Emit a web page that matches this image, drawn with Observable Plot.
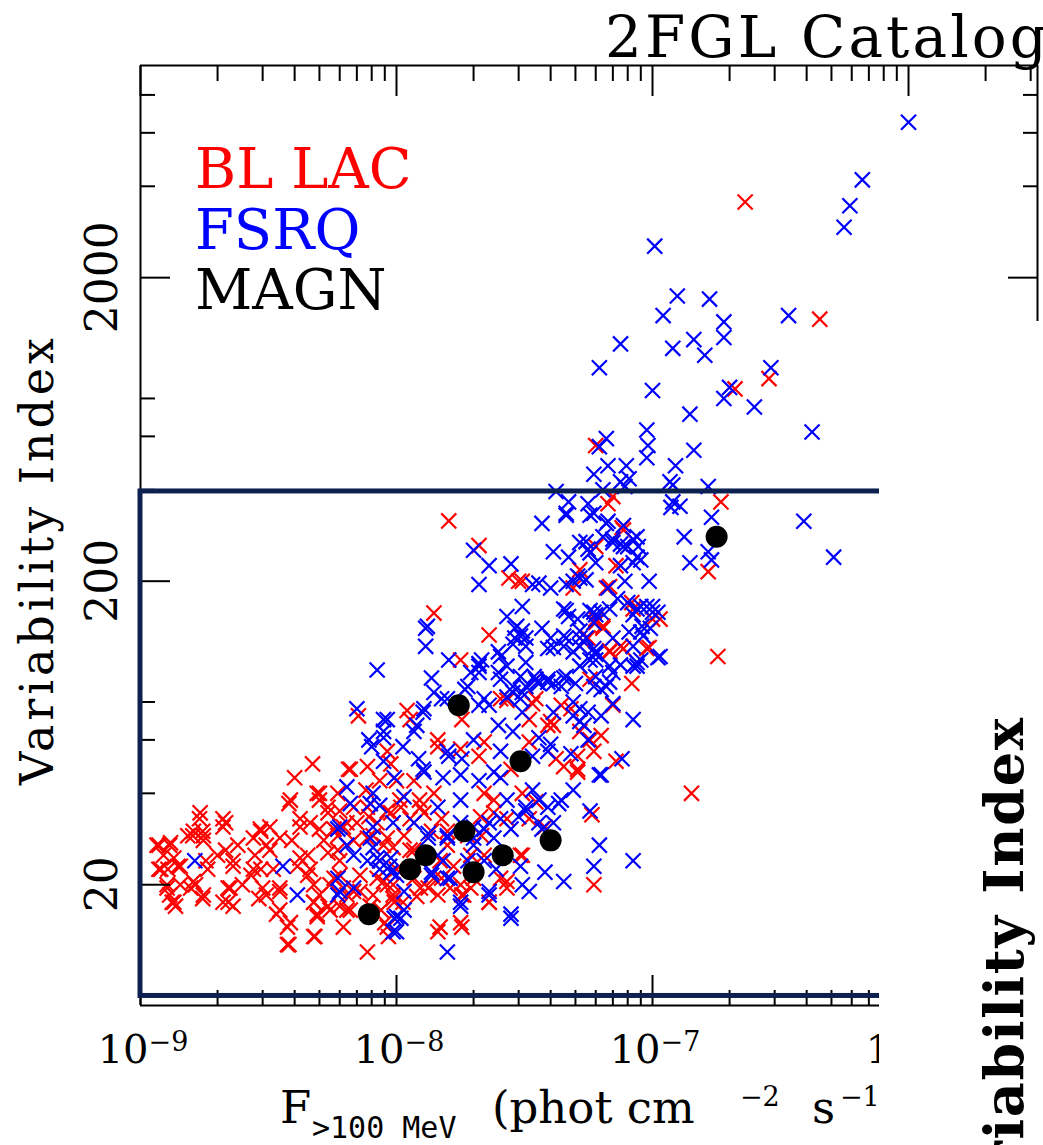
<!DOCTYPE html>
<html>
<head>
<meta charset="utf-8">
<script src="https://cdn.jsdelivr.net/npm/d3@7"></script>
<script src="https://cdn.jsdelivr.net/npm/@observablehq/plot@0.6"></script>
<style>
html, body { margin: 0; padding: 0; background: #fff; }
#chart svg { display: block; }
</style>
</head>
<body>
<div id="chart"></div>
<script>
// ---- data: [flux (>100 MeV, phot cm^-2 s^-1), variability index] ----
const blLac = [
[2.3e-7,3550],[4.5e-7,1460],[2.85e-7,930],[2.1e-7,860],[6.0e-8,560],[7e-8,380],[1.85e-7,365],[6.7e-8,360],[7.6e-8,300],[7.7e-8,295],[6e-8,260],[1.65e-7,215],[7.2e-8,225],[6.6e-8,190],[6.8e-8,192],[5.2e-8,218],[3.1e-8,200],[4.9e-8,190],[8.3e-8,170],[8.4e-8,162],[1e-7,150],[1.07e-7,150],[6e-8,150],[6e-8,146],[6.4e-8,140],[6.4e-8,142],[5.6e-8,130],[5.4e-8,126],[6.8e-8,118],[7.5e-8,122],[7.7e-8,120],[9.5e-8,120],[6.8e-8,117],[9.7e-8,121],[1.8e-7,113],[3.5e-8,95],[8.3e-8,92],[5.7e-8,95],[3.4e-8,79],[4.8e-8,76],[4e-8,69],[5.7e-8,60],[3.3e-8,59],[5.1e-8,53],[7.2e-8,51],[4.5e-8,49],[5.1e-8,48],[1.42e-7,40],[5.9e-8,20],[5.8e-8,34],[3.3e-8,33],[3.8e-8,31],[3.1e-8,25],
[3.5e-8,82],[3.3e-8,70],[3.9e-8,67],[2.55e-8,82],[4.4e-8,78],[5.2e-8,64],[4.1e-8,67],[7e-8,78],[6.3e-8,62],
[1.6e-8,316],[2.1e-8,262],[2.75e-8,205],[3e-8,200],[1.4e-8,157],[2.3e-8,133],[1.78e-8,110],[2.7e-8,81],[7.1e-9,72],[1.1e-8,75],[1.13e-8,70],[1.45e-8,60],[1.8e-8,70],[2.2e-8,59],[6.6e-9,48],[7.7e-9,49],[9.5e-9,50],[2.1e-8,53],
[2.7e-8,20.5],[2.3e-8,17.5],[1.8e-8,18.5],[1.95e-8,19.5],[1.8e-8,14.5],[1.45e-8,14],[7.7e-9,12],[9.3e-9,13.5],[9e-9,15],[8.7e-9,16.5],[7.9e-9,17],[3.05e-8,25],
[9.2e-9,55],[7.6e-9,41],[8.6e-9,44],[1e-8,44],[1.17e-8,44],[1.04e-8,36],[1.28e-8,34.5],[1.5e-8,33],[1.23e-8,38],[9.2e-9,35],[7.8e-9,33.5],[7.7e-9,28.5],[9.2e-9,28.5],[1.07e-8,29],[9.7e-9,26.5],[1.13e-8,26],[8.4e-9,21],[9.7e-9,20],[1.17e-8,21],[1.33e-8,19.5],[1.5e-8,21],[1.67e-8,23],[1.78e-8,20],[8.1e-9,18.5],[9.7e-9,18],[1.2e-8,18.3],[1.45e-8,18.5],[1.78e-8,56],[2.2e-8,40],[2.8e-8,48],[3.1e-8,40],[3.5e-8,37.5],[4.2e-8,52],[5.1e-8,47],[5.9e-8,55],[1.45e-8,57],[2.4e-8,34.5],[1.95e-8,25],[2.15e-8,29],[1.58e-8,30],
[4.7e-9,50],[4e-9,45],[3.8e-9,37],[5e-9,40],[6.5e-9,48],[5.9e-9,40],[1.7e-9,33],[2.15e-9,32],[2.1e-9,31],[1.6e-9,29],[1.75e-9,30],[1.18e-9,27],[1.3e-9,27],[1.23e-9,25],[1.4e-9,23],[1.18e-9,22.5],[1.27e-9,20],[1.43e-9,20],[1.3e-9,18.5],[1.33e-9,17.5],[1.37e-9,17],[1.64e-9,20],[1.75e-9,18],[1.83e-9,22.5],[1.76e-9,28],[2.15e-9,26],[2.4e-9,27],[2.3e-9,23],[2.2e-9,19.5],[2.1e-9,17.5],[2.3e-9,17],[2.5e-9,20],[2.7e-9,21.5],[2.8e-9,25],[2.95e-9,30],[3.2e-9,31],[3.5e-9,28.5],[3.2e-9,26],[2.95e-9,22.5],[3.1e-9,18.5],[2.9e-9,18],[3.5e-9,19],[3.5e-9,16.5],[3.85e-9,15],[3.8e-9,12.7],[4.1e-9,23],[3.9e-9,28],[4.2e-9,31],[4.6e-9,32],[5e-9,30.5],[4.5e-9,25],[4.6e-9,22.5],[5.4e-9,25.5],[4.75e-9,20],[4.75e-9,17.5],[5e-9,18.5],[4.9e-9,16],[4.8e-9,13.5],[5.5e-9,20],[6e-9,24],[5.9e-9,29],[6e-9,35],[5.4e-9,36],[4.9e-9,40],[6.4e-9,18.5],[6e-9,17],[6.8e-9,19],[7.2e-9,21.5],[6e-9,21.5],[6.8e-9,28],[7e-9,32],[6.2e-9,31],[7.7e-9,36],[8.1e-9,29],[8.6e-9,24],[9.2e-9,20],[9.8e-9,17.5],[9.2e-9,14.5],[6.4e-9,16.5],[5.4e-9,17],[1.8e-9,24],[1.53e-9,29],[1.28e-9,22.5],
[1.16e-9,27],[1.31e-9,27.5],[1.2e-9,22.5],[1.35e-9,24.5],[1.27e-9,19.5],[1.35e-9,17.5],[1.43e-9,23],[1.61e-9,30],[1.71e-9,34.5],[1.76e-9,29],[1.61e-9,20.5],[1.76e-9,18.5],[1.57e-9,19.5],[2.1e-9,33],[2e-9,25],[2.3e-9,24],[2.24e-9,19.5],[2.2e-9,17.5],[2.76e-9,28.5],[2.94e-9,30.5],[3.1e-9,27],[2.76e-9,22.5],[3.3e-9,22.5],[3.0e-9,19.5],[3.5e-9,19.5],[3.4e-9,16],[3.75e-9,14.5],[3.75e-9,12.7],[3.85e-9,38],[4.2e-9,33],[4.2e-9,24.5],[4.5e-9,21.5],[4.75e-9,17.5],[4.9e-9,15.7],[4.75e-9,13.5],[5.0e-9,38],[5.4e-9,34.5],[5.7e-9,30.5],[5.2e-9,28],[5.9e-9,26],[5.7e-9,21],[5.5e-9,16.5],[6.2e-9,19.5],[6.4e-9,32],[6.8e-9,36],[6.6e-9,16.5],[7.2e-9,19],[6.2e-9,14.5],
[8.4e-9,32],[8.9e-9,27],[9.5e-9,34.5],[1.03e-8,38],[1.13e-8,33],[1.24e-8,36],[1.4e-8,40],[1.0e-8,22.5],[8.9e-9,20.5],[9.7e-9,18.5],[1.06e-8,17.5],[1.24e-8,19.5],[1.4e-8,21],[1.48e-8,24],[1.62e-8,19.5],[1.83e-8,18.5],[2e-8,21],[2.2e-8,25],[2.55e-8,21],[2.7e-8,19.5],[2.3e-8,17.5],[1.48e-8,14.5],[1.78e-8,15],[1.37e-8,30],[1.58e-8,27],[1.9e-8,29],[2.13e-8,33.5],[2.4e-8,38],[2.7e-8,33],[1.17e-8,26]
];

const fsrq = [
[1.0e-6,6500],[6.6e-7,4200],[5.9e-7,3450],[5.6e-7,2930],[1.02e-7,2540],[1.25e-7,1740],[1.67e-7,1700],[1.1e-7,1500],[3.4e-7,1500],[1.9e-7,1430],[1.9e-7,1270],[7.5e-8,1210],[1.2e-7,1170],[1.45e-7,1250],[1.6e-7,1110],[6.2e-8,1010],[2.9e-7,1010],[1.0e-7,850],[2.0e-7,870],[1.9e-7,800],[2.5e-7,750],[1.4e-7,710],[4.2e-7,620],[9.5e-8,630],[6.6e-8,590],[6.2e-8,555],[9.6e-8,560],[1.45e-7,540],[9.5e-8,510],[6.7e-8,480],[7.9e-8,480],[5.9e-8,450],[1.23e-7,480],[8.1e-8,435],[1.2e-7,415],[1.65e-7,410],[6.4e-8,400],[4.2e-8,395],[7.8e-8,410],[4.7e-8,365],[5.6e-8,360],[1.2e-7,365],[7.5e-8,425],[1.17e-7,425],[1.28e-7,353],
[3.7e-8,310],[4.6e-8,330],[5.7e-8,330],[6.7e-8,315],[7.7e-8,305],[1.7e-7,325],[3.9e-7,315],[1.18e-7,350],[1.33e-7,280],[4.1e-8,250],[5.5e-8,270],[6.4e-8,280],[7.5e-8,265],[8.4e-8,275],[8e-8,260],[8.8e-8,260],[1.4e-7,230],[1.65e-7,250],[1.7e-7,235],[5.1e-7,240],[5.6e-8,255],[6e-8,230],[8.4e-8,230],[9e-8,235],[9.7e-8,200],[7.8e-8,200],[6.7e-8,190],[5.2e-8,205],[3.4e-8,195],[4e-8,190],[4.9e-8,200],[7.3e-8,175],[8e-8,170],[9e-8,165],[1e-7,165],[3.1e-8,165],[4.6e-8,160],[5.7e-8,160],[6e-8,155],[8.4e-8,155],[9.1e-8,142],[9.8e-8,140],[3.7e-8,140],[4e-8,130],[3.2e-8,122],[3.1e-8,137],[5.2e-8,137],[5.5e-8,130],[4.5e-8,122],[4.9e-8,117],[6e-8,117],[5.7e-8,110],[1.05e-7,112],[7.5e-8,106],[8.7e-8,105],[3.9e-8,93],[4.1e-8,92],[5e-8,92],[4.5e-8,96],[6.3e-8,88],[6.8e-8,93],[3.1e-8,86],[4.9e-8,80],[5.2e-8,76],[7e-8,79],[8.4e-8,70],[4.1e-8,74],[5.6e-8,60],[5.4e-8,67],[3.6e-8,61],[4e-8,58],[4.8e-8,54],[7.6e-8,52],[6.3e-8,46],
[6.2e-8,27],[8.4e-8,24],[5.9e-8,23],[3.8e-8,22],[4.5e-8,20.5],[3.3e-8,19],[3.1e-8,20],[5.7e-8,35],[4.9e-8,41],[4.3e-8,37],[3.6e-8,38],[3.2e-8,36],[4.1e-8,32],[3.6e-8,32],[3.2e-8,35],
[6.2e-8,46],[3.05e-8,23],[2.3e-8,19],[1.78e-8,17],[1.58e-8,12],[2.8e-8,15.5],[1e-8,14],[1.07e-8,16.5],[1.04e-8,15.5],
[1.28e-8,47],[1.58e-8,55],[1.78e-8,46],[2.1e-8,44],[2.4e-8,47],[2.55e-8,55],[3.4e-8,53],[3.9e-8,55],[3.9e-8,36],[4.4e-8,38],[3.4e-8,41],[2.7e-8,38],[2.3e-8,32],[1.78e-8,38],[1.52e-8,45],[1.45e-8,36],[1.17e-8,32],[9.7e-9,32],[8.1e-9,31],[8.6e-9,36.5],[1.07e-8,39],[1.33e-8,29.5],[1.58e-8,28.5],[2e-8,27],[2.4e-8,28.5],[8.1e-9,26.5],[8.6e-9,24],[9.5e-9,22],[1.52e-8,24],[1.37e-8,22],[1.58e-8,21],[1.07e-8,19],[1.8e-8,52],[1.22e-8,52],[2.55e-8,45],[3e-8,33.5],[2e-8,31],[3.7e-8,30.5],
[1.63e-9,24],[3.6e-9,23],[4.1e-9,18.5],[6e-9,31],[6.4e-9,42],[6.6e-9,37],[5.9e-9,21],[5.9e-9,18.5],[8.1e-9,40],[7.9e-9,37],[8.9e-9,51],[9.8e-9,45],[7.7e-9,24],[8.6e-9,22.5],[9.4e-9,23],[9.8e-9,15.5],
[2e-8,253],[2.3e-8,225],[2.8e-8,228],[2.1e-8,195],[2.7e-8,153],[1.3e-8,140],[1.3e-8,122],[2.9e-8,140],[2.9e-8,130],[8.4e-9,102],[1.6e-8,110],[1.37e-8,96],[2.1e-8,107],[2.55e-8,113],[2.1e-8,100],[2.5e-8,100],[1.9e-8,90],[1.4e-8,86],[1.5e-8,82],[2.85e-8,86],[1.27e-8,74],[7e-9,76],[1.17e-8,64],[8.9e-9,70],[7.8e-9,60],[8.9e-9,61],[8e-9,57],[1.06e-8,57],[2e-8,60],[1.6e-8,53],[1.27e-8,48],
[4.6e-8,335],[5.9e-8,335],[7e-8,275],[8.7e-8,280],[7.5e-8,225],[3.6e-8,197],[4.6e-8,195],[5.5e-8,202],[2.95e-8,142],[3.05e-8,132],[3.2e-8,130],[2.85e-8,124],[4.1e-8,121],[3.9e-8,120],[4.5e-8,162],[5.1e-8,150],[5.9e-8,158],[5.9e-8,146],[6.8e-8,162],[4.6e-8,130],[5.2e-8,122],[6e-8,115],[8.4e-8,122],[9e-8,136],[9.5e-8,165],[1e-7,158],[9e-8,110],[8.4e-8,105],[7e-8,100],[6e-8,97],[6.6e-8,90],[5.9e-8,90],[5.2e-8,105],[4.6e-8,97],[4.4e-8,90],[3.6e-8,92],[3.9e-8,95],[3.2e-8,108],[2.7e-8,105],[3.05e-8,97],[3.2e-8,90],[2.85e-8,90],[2.55e-8,95],[2.1e-8,105],[2.15e-8,110],[2.5e-8,117],[1.95e-8,100],[1.85e-8,88],[2.2e-8,82],[2.1e-8,78],[1.32e-8,142],[1.58e-8,82],[1.28e-8,76],[1.2e-8,67],[9.2e-9,70],[8.9e-9,64],[2.7e-8,83],[3.05e-8,82],[3.1e-8,74],[2.3e-8,78],[2.5e-8,67],[2.85e-8,64],[3.5e-8,95],[3.45e-8,97],[3.55e-8,93],[5.6e-8,74],[4.9e-8,72],[5.2e-8,69],[6.3e-8,72],
[5.2e-8,268],[5.7e-8,248],[7e-8,268],[7.7e-8,260],[8.7e-8,240],[6.6e-8,310],[4.7e-8,240],[5.1e-8,208],[4.7e-8,153],[6.3e-8,158],[8.7e-8,162],[1.05e-7,158],[4.5e-8,132],[5.2e-8,130],[5.9e-8,120],[7e-8,130],[8.1e-8,136],[9.2e-8,132],[1.07e-7,113],[8.7e-8,108],[6.8e-8,105],[6e-8,110],
[5.9e-9,30.5],[6.4e-9,27],[6.8e-9,25],[7.9e-9,28.5],[8.4e-9,24.5],[9.5e-9,24.5],[1e-8,21.5],[1.13e-8,22.5],[1.33e-8,28.5],[1.45e-8,25],[1.58e-8,29],[1.78e-8,32],[2e-8,28.5],[2.2e-8,30.5],[2.55e-8,33],[2.8e-8,30.5],[1.37e-8,21.5],[1.62e-8,21],[1.9e-8,24],[2.2e-8,24],[2.45e-8,22.5],[1e-8,15.7],[9.7e-9,14],[1.78e-8,17.5],[2.3e-8,18.5],[2.8e-8,16],[6e-9,19],[6.8e-9,19.5]
];

const magn = [[7.8e-9,16],[1.13e-8,22.5],[1.3e-8,25],[2e-8,22],[1.84e-8,30],[2.6e-8,25],[4e-8,28],[3.05e-8,51],[1.75e-8,78],[1.78e-7,280]];

// ---- axes / labels ----
const xDomain = [1e-9, 3.19e-6];
const yDomain = [8, 10000];
const xMajorTicks = [1e-9, 1e-8, 1e-7, 1e-6];
const xTickExponents = [-9, -8, -7, -6];
const xMinorTicks = [2e-9,3e-9,4e-9,5e-9,6e-9,7e-9,8e-9,9e-9,2e-8,3e-8,4e-8,5e-8,6e-8,7e-8,8e-8,9e-8,2e-7,3e-7,4e-7,5e-7,6e-7,7e-7,8e-7,9e-7,2e-6,3e-6];
const yMajorTicks = [20, 200, 2000];
const yMinorTicks = [40, 60, 80, 400, 600, 800, 4000, 6000, 8000];
const legendLabels = ["BL LAC", "FSRQ", "MAGN"];
const legendColors = ["#ff0000", "#0000ff", "#000000"];
const highlightFlux = [1e-9, 3.19e-6];
const highlightVar = [8.6, 395];

const NAVY = "#0c2150";
const SERIF = "DejaVu Serif";

const tickStyle = {tickFormat: () => "", fill: "none", label: null, strokeWidth: 2, stroke: "#000"};

const plot = Plot.plot({
  width: 1043,
  height: 1145,
  marginLeft: 140,
  marginRight: 6,
  marginTop: 65,
  marginBottom: 140,
  x: {type: "log", domain: xDomain, axis: null},
  y: {type: "log", domain: yDomain, axis: null},
  style: {background: "#fff", fontFamily: SERIF, overflow: "visible"},
  marks: [
    Plot.dot(blLac, {x: d => d[0], y: d => d[1], symbol: "times", r: 6.9, stroke: legendColors[0], strokeWidth: 2.2}),
    Plot.dot(fsrq, {x: d => d[0], y: d => d[1], symbol: "times", r: 6.9, stroke: legendColors[1], strokeWidth: 2.2}),
    Plot.dot(magn, {x: d => d[0], y: d => d[1], r: 11, fill: legendColors[2], stroke: "none"}),
    // frame
    Plot.ruleY([yDomain[1]], {stroke: "#000", strokeWidth: 2}),
    Plot.ruleY([yDomain[0]], {stroke: "#000", strokeWidth: 2}),
    Plot.ruleX([xDomain[0]], {stroke: "#000", strokeWidth: 2}),
    Plot.ruleX([xDomain[1]], {stroke: "#000", strokeWidth: 2}),
    // ticks
    Plot.axisX(xMinorTicks, {anchor: "top", tickSize: -15, ...tickStyle}),
    Plot.axisX(xMajorTicks, {anchor: "top", tickSize: -30, ...tickStyle}),
    Plot.axisX(xMinorTicks, {anchor: "bottom", tickSize: -15, ...tickStyle}),
    Plot.axisX(xMajorTicks, {anchor: "bottom", tickSize: -30, ...tickStyle}),
    Plot.axisY(yMinorTicks, {anchor: "left", tickSize: -15, ...tickStyle}),
    Plot.axisY(yMajorTicks, {anchor: "left", tickSize: -30, ...tickStyle}),
    Plot.axisY(yMinorTicks, {anchor: "right", tickSize: -15, ...tickStyle}),
    Plot.axisY(yMajorTicks, {anchor: "right", tickSize: -30, ...tickStyle}),
    // highlight box
    Plot.rect([0], {x1: () => highlightFlux[0], x2: () => highlightFlux[1], y1: () => highlightVar[0], y2: () => highlightVar[1], fill: "none", stroke: NAVY, strokeWidth: 5})
  ]
});

document.getElementById("chart").appendChild(plot);

const svg = d3.select(plot);
const sx = plot.scale("x");
const sy = plot.scale("y");

// x tick labels
xMajorTicks.forEach((v, i) => {
  const t = svg.append("text")
    .attr("x", sx.apply(v) + 3).attr("y", 1063)
    .attr("text-anchor", "middle")
    .attr("font-family", SERIF).attr("font-size", 40).attr("fill", "#000");
  t.append("tspan").text("10");
  t.append("tspan").attr("font-size", 27).attr("dy", -12).text("\u2212" + Math.abs(xTickExponents[i]));
});

// y tick labels
yMajorTicks.forEach(v => {
  svg.append("text")
    .attr("transform", `translate(117,${sy.apply(v)}) rotate(-90)`)
    .attr("text-anchor", "middle")
    .attr("font-family", SERIF).attr("font-size", 44).attr("fill", "#000")
    .text(String(v));
});

// legend
legendLabels.forEach((lab, i) => {
  svg.append("text")
    .attr("x", 195).attr("y", 188 + i * 60.5)
    .attr("text-anchor", "start")
    .attr("font-family", SERIF).attr("font-size", 56).attr("fill", legendColors[i])
    .text(lab);
});

// title
svg.append("text")
  .attr("x", 605).attr("y", 57)
  .attr("text-anchor", "start")
  .attr("font-family", SERIF).attr("font-size", 58).attr("fill", "#000")
  .attr("textLength", 442).attr("lengthAdjust", "spacing")
  .text("2FGL Catalog");

// y title
svg.append("text")
  .attr("transform", "translate(53,785) rotate(-90)")
  .attr("text-anchor", "start")
  .attr("font-family", SERIF).attr("font-size", 46).attr("fill", "#000")
  .attr("textLength", 447).attr("lengthAdjust", "spacing")
  .text("Variability Index");

// x title
const xt = svg.append("text").attr("text-anchor", "start").attr("font-family", SERIF).attr("font-size", 45).attr("fill", "#000");
xt.append("tspan").attr("x", 280).attr("y", 1123).text("F");
xt.append("tspan").attr("x", 312).attr("y", 1138).attr("font-size", 30).attr("font-family", "DejaVu Sans Mono").text(">100 MeV");
xt.append("tspan").attr("x", 492).attr("y", 1123).text("(phot cm");
xt.append("tspan").attr("x", 740).attr("y", 1106).attr("font-size", 27).text("\u22122");
xt.append("tspan").attr("x", 812).attr("y", 1123).text("s");
xt.append("tspan").attr("x", 840).attr("y", 1106).attr("font-size", 27).text("\u22121");
xt.append("tspan").attr("x", 882).attr("y", 1123).text(")");

// the lower-right part of the panel is covered by the neighbouring panel
svg.append("rect").attr("x", 879).attr("y", 321).attr("width", 170).attr("height", 830).attr("fill", "#fff");

// neighbouring panel's axis title
svg.append("text")
  .attr("transform", "translate(1023,1245) rotate(-90)")
  .attr("text-anchor", "start")
  .attr("font-family", SERIF).attr("font-weight", "bold").attr("font-size", 54).attr("fill", "#000")
  .attr("textLength", 527).attr("lengthAdjust", "spacing")
  .text("Variability Index");
</script>
</body>
</html>
